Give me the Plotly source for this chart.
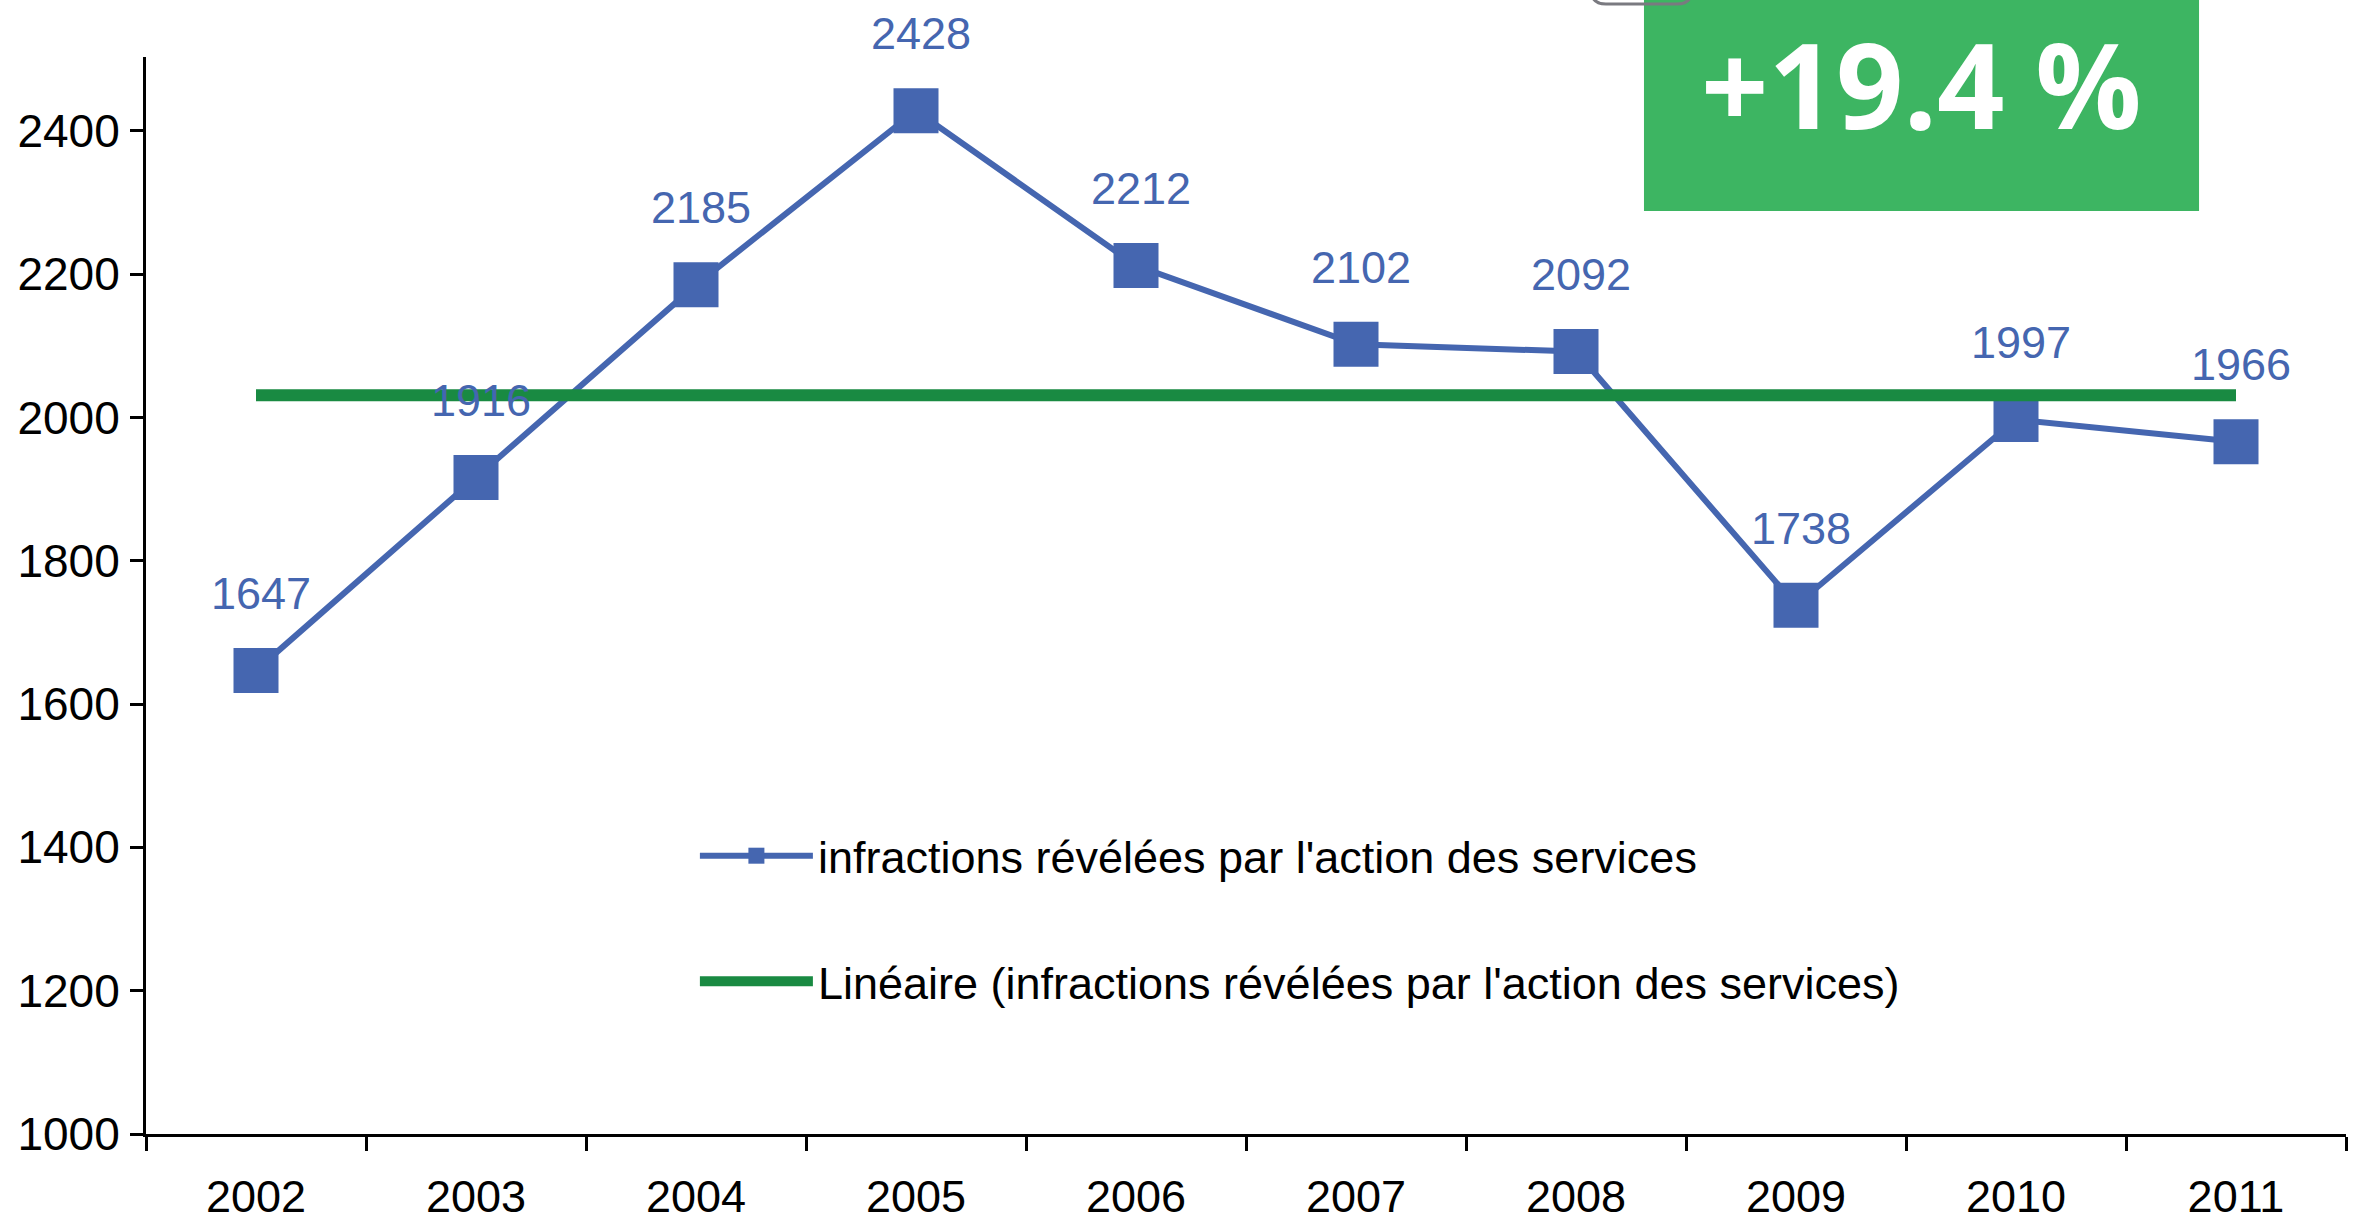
import plotly.graph_objects as go

years = ["2002", "2003", "2004", "2005", "2006", "2007", "2008", "2009", "2010", "2011"]
infractions = [1647, 1916, 2185, 2428, 2212, 2102, 2092, 1738, 1997, 1966]

trend_years = ["2002", "2011"]
trend_values = [2031, 2031]

badge_text = "+19.4 %"

blue = "#4566b0"
green_line = "#198a42"
green_box = "#3db562"
font_family = "Liberation Sans, Arial, sans-serif"

fig = go.Figure()

fig.add_trace(
    go.Scatter(
        x=years,
        y=infractions,
        mode="lines+markers",
        name="infractions révélées par l'action des services",
        legendgroup="a",
        line=dict(color=blue, width=6),
        marker=dict(symbol="square", size=45, color=blue),
        cliponaxis=False,
    )
)

fig.add_trace(
    go.Scatter(
        x=trend_years,
        y=trend_values,
        mode="lines",
        name="Linéaire (infractions révélées par l'action des services)",
        legendgroup="b",
        line=dict(color=green_line, width=12),
    )
)

# data labels above each point (category index on the x axis)
for i, v in enumerate(infractions):
    fig.add_annotation(
        x=i, y=v, text=str(v), showarrow=False,
        yshift=77, xshift=5,
        font=dict(size=45, color=blue, family=font_family),
    )

# green badge in the top right corner
fig.add_shape(
    type="rect", xref="paper", yref="paper",
    x0=0.6809, x1=0.9332, y0=0.857, y1=1.06,
    fillcolor=green_box, line=dict(width=0), layer="above",
)
fig.add_shape(
    type="path", xref="paper", yref="paper",
    path="M0.6568,1.09 L0.6568,1.063 Q0.6568,1.0492 0.6636,1.0492 "
         "L0.6959,1.0492 Q0.7027,1.0492 0.7027,1.063 L0.7027,1.09",
    line=dict(color="#7a7a80", width=3), layer="above",
)
fig.add_annotation(
    xref="paper", yref="paper", x=0.807, y=0.975,
    text=badge_text, showarrow=False,
    xanchor="center", yanchor="middle",
    font=dict(size=118, color="white", family="Open Sans, sans-serif", weight="bold"),
)

fig.update_layout(
    width=2358,
    height=1222,
    margin=dict(l=146, r=12, t=57, b=88),
    plot_bgcolor="white",
    paper_bgcolor="white",
    font=dict(family=font_family, size=46, color="black"),
    showlegend=True,
    legend=dict(
        x=0.2495, y=0.2916, xanchor="left", yanchor="top",
        font=dict(size=45, color="black"),
        traceorder="grouped",
        tracegroupgap=64,
        itemwidth=113,
        bgcolor="rgba(0,0,0,0)",
    ),
)

fig.update_xaxes(
    type="category",
    range=[-0.5, 9.5],
    automargin=False,
    showline=True, linecolor="black", linewidth=3,
    ticks="outside", tickson="boundaries", ticklen=14, tickwidth=3, tickcolor="black",
    showgrid=False, zeroline=False,
    ticklabelstandoff=21,
    tickfont=dict(size=45),
)

fig.update_yaxes(
    range=[1000, 2503],
    dtick=200, tick0=1000,
    automargin=False,
    showline=True, linecolor="black", linewidth=3,
    ticks="outside", ticklen=13, tickwidth=3, tickcolor="black",
    showgrid=False, zeroline=False,
    ticklabelstandoff=1,
)

fig.write_html(
    "out.html",
    config={"displayModeBar": False},
    post_script="document.body.style.margin='0px';",
)
